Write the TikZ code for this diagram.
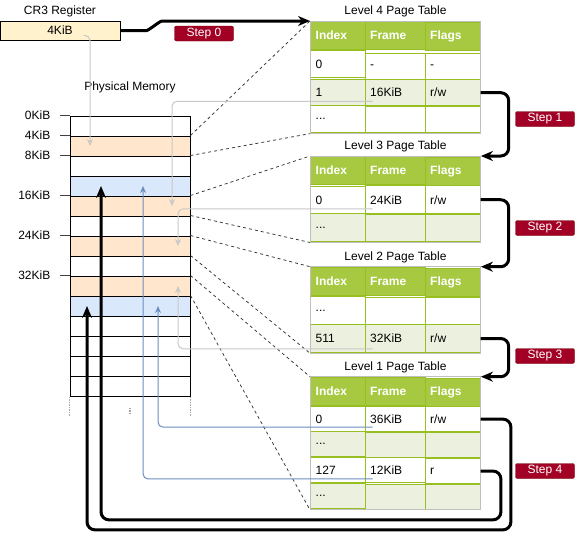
\documentclass[tikz,border=0pt]{standalone}
\usepackage{fontspec}
\setmainfont{Liberation Sans}
\usetikzlibrary{arrows.meta,positioning,matrix}
\definecolor{hdrgreen}{HTML}{A7C942}
\definecolor{rowgreen}{HTML}{EBF1DE}
\definecolor{gridgreen}{HTML}{98BF21}
\definecolor{framegray}{HTML}{BFBFBF}
\definecolor{stepred}{HTML}{A20025}
\definecolor{stepdark}{HTML}{6F0000}
\definecolor{memorange}{HTML}{FFE6CC}
\definecolor{memblue}{HTML}{DAE8FC}
\definecolor{regyellow}{HTML}{FFF2CC}
\definecolor{linkgray}{HTML}{C8C8C8}
\definecolor{linkblue}{HTML}{6C8EBF}
\tikzset{ptable/.style={matrix of nodes, nodes in empty cells, anchor=north west,
    inner sep=0pt, column sep=-1pt, row sep=-1pt,
    nodes={draw=gridgreen, line width=1pt, fill=white, align=left,
        inner xsep=5pt, inner ysep=0pt, minimum height=#1},
    column 1/.style={nodes={text width=44.5pt}},
    column 2/.style={nodes={text width=50pt}},
    column 3/.style={nodes={text width=45pt}},
    row 1/.style={nodes={fill=hdrgreen, text=white, font=\bfseries, minimum height=28pt}}},
oddrow/.style={nodes={fill=rowgreen}},
tblframe/.style={draw=framegray, line width=1pt},
memrow/.style={draw, line width=1pt, minimum width=120pt, minimum height=20pt, inner sep=0pt},
reg/.style={draw, fill=regyellow, line width=1pt, minimum width=120pt, minimum height=19pt, inner sep=0pt},
title/.style={inner sep=0pt},
addr/.style={inner sep=0pt},
tick/.style={draw=black!75, line width=0.8pt},
memdots/.style={draw=gray!70, line width=1.5pt, densely dotted},
mapline/.style={draw=black!80, line width=0.75pt, dash pattern=on 3pt off 3pt},
graylink/.style={draw=linkgray, line width=1pt, rounded corners=5pt, -{Stealth[length=7pt,width=6pt]}},
bluelink/.style={draw=linkblue, line width=1pt, rounded corners=5pt, -{Stealth[length=7pt,width=6pt]}},
stepline/.style={line width=3pt, rounded corners=8pt, -{Stealth[length=12pt,width=10pt]}},
steptag/.style={fill=stepred, draw=stepdark, rounded corners=2pt, text=white,
    minimum width=59pt, minimum height=15pt, inner sep=0pt}
}
\begin{document}
\fontsize{12}{14}\selectfont
\begin{tikzpicture}[x=1pt, y=-1pt]
    \useasboundingbox (0,0) rectangle (576,536);
    \node[reg] (cr3) at (60,30.5) {4KiB};
    \node[title, above=3.5pt of cr3] (cr3title) {CR3 Register};
    \foreach \i/\c in {0/white,1/memorange,2/white,3/memblue,4/memorange,5/white,6/memorange,
            7/white,8/memorange,9/memblue,10/white,11/white,12/white,13/white}
        \node[memrow, fill=\c] (mem\i) at (130,126+20*\i) {};
    \node[title, above=22pt of mem0] (memtitle) {Physical Memory};
    \foreach \i/\t in {0/0KiB,1/4KiB,2/8KiB,4/16KiB,6/24KiB,8/32KiB} {
        \draw[tick] (mem\i.north west) -- ++(-10,0);
        \node[addr, left=19pt of mem\i.north west] (addr\i) {\t};
    }
    \draw[memdots] (mem13.south west) -- ++(0,20);
    \draw[memdots] ([yshift=-11pt]mem13.south) -- ++(0,6);
    \draw[memdots] (mem13.south east) -- ++(0,20);

    \matrix (lfour) [ptable=26.3pt, row 3/.style={oddrow}] at (310,21) {
        Index & Frame & Flags \\
        0 & - & - \\
        1 & 16KiB & r/w \\
        ... & & \\
    };
    \matrix (lthree) [ptable=27.5pt, row 3/.style={oddrow}] at (310,156) {
        Index & Frame & Flags \\
        0 & 24KiB & r/w \\
        ... & & \\
    };
    \matrix (ltwo) [ptable=27.5pt, row 3/.style={oddrow}] at (310,266.7) {
        Index & Frame & Flags \\
        ... & & \\
        511 & 32KiB & r/w \\
    };
    \matrix (lone) [ptable=25pt, row 3/.style={oddrow}, row 5/.style={oddrow}] at (310,376.7) {
        Index & Frame & Flags \\
        0 & 36KiB & r/w \\
        ... & & \\
        127 & 12KiB & r \\
        ... & & \\
    };
    \foreach \t in {lfour,lthree,ltwo,lone}
        \draw[tblframe] (\t.north west) rectangle (\t.south east);
    \node[title, above=3.5pt of lfour] (lfourtitle) {Level 4 Page Table};
    \node[title, above=3.5pt of lthree] (lthreetitle) {Level 3 Page Table};
    \node[title, above=3.5pt of ltwo] (ltwotitle) {Level 2 Page Table};
    \node[title, above=3.5pt of lone] (lonetitle) {Level 1 Page Table};

    \foreach \r/\t in {1/lfour.north west,2/lfour.south west,4/lthree.north west,5/lthree.south west,
            6/ltwo.north west,7/ltwo.south west,8/lone.north west,9/lone.south west}
        \draw[mapline] (mem\r.north east) -- (\t);

    \draw[graylink] ([shift={(26,5)}]cr3.center) -| ([xshift=-40pt]mem1.center);
    \draw[graylink] ([shift={(8,-5)}]lfour-3-2.south west) -| ([xshift=42pt]mem4.center);
    \draw[graylink] ([shift={(8,-5)}]lthree-2-2.south west) -| ([xshift=48pt]mem6.center);
    \draw[graylink] ([shift={(8,-4)}]ltwo-3-2.south west) -| ([xshift=48pt]mem8.center);
    \draw[bluelink] ([shift={(8,-5)}]lone-2-2.south west) -| ([xshift=28pt]mem9.center);
    \draw[bluelink] ([shift={(8,-4)}]lone-4-2.south west) -| ([xshift=13pt]mem3.center);

    \draw[stepline] (cr3.east) -- ++(18,0) to[out=0,in=180,looseness=0.8] ([xshift=-140pt]lfour.north west) -- (lfour.north west);
    \draw[stepline] (lfour-3-3.east) -- ++(28,0) |- (lthree.north east);
    \draw[stepline] (lthree-2-3.east) -- ++(28,0) |- (ltwo.north east);
    \draw[stepline] (ltwo-3-3.east) -- ++(28,0) |- (lone.north east);
    \draw[stepline] (lone-2-3.east) -| ([shift={(30,20)}]lone.south east) -| ([xshift=-43pt]mem9.center);
    \draw[stepline] (lone-4-3.east) -| ([shift={(20,10)}]lone.south east) -| ([xshift=-29pt]mem3.center);

    \node[steptag] (step0) at (204,33.5) {Step 0};
    \node[steptag] (step1) at (545,119) {Step 1};
    \node[steptag] (step2) at (545,228) {Step 2};
    \node[steptag] (step3) at (545,356) {Step 3};
    \node[steptag] (step4) at (545,471) {Step 4};
\end{tikzpicture}
\end{document}
